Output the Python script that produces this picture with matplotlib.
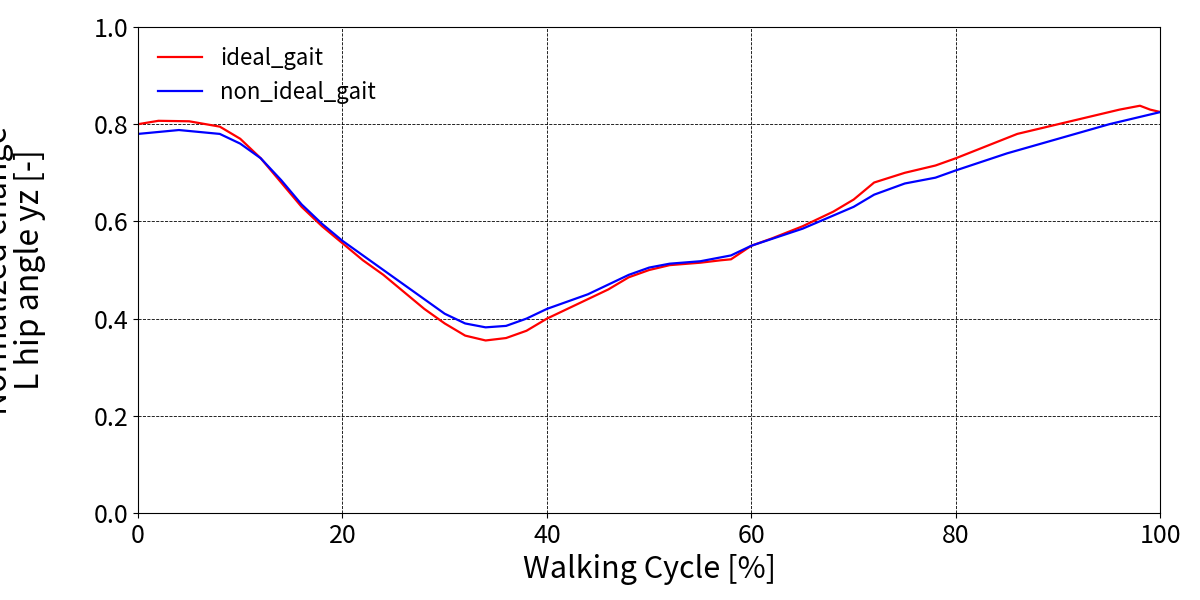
import matplotlib
matplotlib.use("Agg")
import matplotlib.pyplot as plt
import numpy as np

plt.rcParams['font.family'] = ['Noto Sans CJK JP', 'DejaVu Sans']

# ideal gait (red)
ideal_x = [0, 2, 5, 8, 10, 12, 14, 16, 18, 20, 22, 24, 26, 28, 30, 32, 34, 36, 38, 40,
           42, 44, 46, 48, 50, 52, 55, 57, 58, 60, 62, 65, 68, 70, 72, 75, 78, 80, 83,
           86, 90, 93, 96, 98, 99, 100]
ideal_y = [0.800, 0.807, 0.806, 0.795, 0.770, 0.730, 0.680, 0.630, 0.590, 0.555, 0.520,
           0.490, 0.455, 0.420, 0.390, 0.365, 0.355, 0.360, 0.375, 0.400, 0.420, 0.440,
           0.460, 0.485, 0.500, 0.510, 0.515, 0.520, 0.522, 0.550, 0.565, 0.590, 0.620,
           0.645, 0.680, 0.700, 0.715, 0.730, 0.755, 0.780, 0.800, 0.815, 0.830, 0.838,
           0.830, 0.825]

# non-ideal gait (blue)
non_x = [0, 4, 8, 10, 12, 14, 16, 18, 20, 24, 28, 30, 32, 34, 36, 38, 40, 44, 48, 50,
         52, 55, 58, 60, 65, 70, 72, 75, 78, 80, 85, 90, 95, 100]
non_y = [0.780, 0.788, 0.780, 0.760, 0.730, 0.685, 0.635, 0.595, 0.560, 0.500, 0.440,
         0.410, 0.390, 0.382, 0.385, 0.400, 0.420, 0.450, 0.490, 0.505, 0.513, 0.518,
         0.530, 0.550, 0.585, 0.630, 0.655, 0.678, 0.690, 0.705, 0.740, 0.770, 0.800,
         0.825]

fig, ax = plt.subplots(figsize=(12, 6), dpi=100)
fig.subplots_adjust(left=0.115, right=0.967, top=0.955, bottom=0.145)

ax.plot(ideal_x, ideal_y, color="red", linewidth=1.6, label="ideal_gait")
ax.plot(non_x, non_y, color="blue", linewidth=1.6, label="non_ideal_gait")

ax.set_xlim(0, 100)
ax.set_ylim(0, 1.0)
ax.set_xticks([0, 20, 40, 60, 80, 100])
ax.set_yticks(np.arange(0, 1.01, 0.2))
ax.yaxis.set_major_formatter(matplotlib.ticker.FormatStrFormatter('%.1f'))
ax.tick_params(labelsize=18)
ax.grid(True, linestyle="--", color="black", linewidth=0.6)
ax.set_xlabel("Walking Cycle [%]", fontsize=22)
ax.set_ylabel("Normalized change\nL hip angle yz [-]", fontsize=23, linespacing=1.0)
ax.yaxis.set_label_coords(-0.09, 0.5)
ax.legend(loc="upper left", fontsize=16, frameon=False)

fig.savefig("out.png")
